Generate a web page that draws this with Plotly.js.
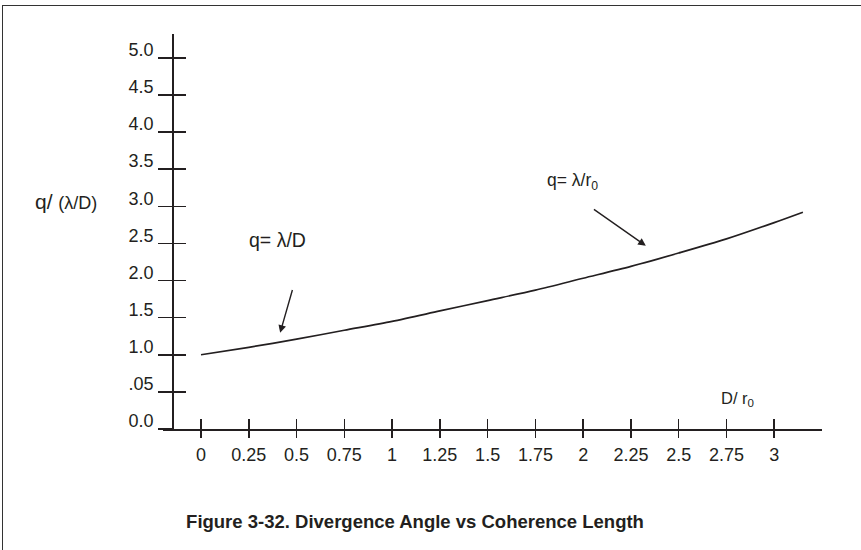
<!DOCTYPE html>
<html>
<head>
<meta charset="utf-8">
<script src="https://cdn.plot.ly/plotly-3.0.1.min.js"></script>
<style>
  html, body { margin: 0; padding: 0; background: #fff; }
  #wrap { position: relative; width: 861px; height: 550px; overflow: hidden; }
  #chart { position: absolute; left: 0; top: 0; width: 861px; height: 550px; }
  #frame { position: absolute; left: 2px; top: 4.5px; width: 870px; height: 560px;
           border-left: 1.6px solid #333; border-top: 1.6px solid #333; pointer-events: none; }
</style>
</head>
<body>
<div id="wrap">
  <div id="chart"></div>
  <div id="frame"></div>
</div>
<script>
// Data
const ratioDr0 = [0, 0.25, 0.5, 0.75, 1, 1.25, 1.5, 1.75, 2, 2.25, 2.5, 2.75, 3, 3.15];
const thetaNorm = [1.00, 1.10, 1.21, 1.33, 1.45, 1.59, 1.73, 1.87, 2.03, 2.19, 2.37, 2.56, 2.78, 2.92];

const xTickVals = [0, 0.25, 0.5, 0.75, 1, 1.25, 1.5, 1.75, 2, 2.25, 2.5, 2.75, 3];
const xTickText = ['0', '0.25', '0.5', '0.75', '1', '1.25', '1.5', '1.75', '2', '2.25', '2.5', '2.75', '3'];
const yTickVals = [0, 0.5, 1, 1.5, 2, 2.5, 3, 3.5, 4, 4.5, 5];
const yTickText = ['0.0', '.05', '1.0', '1.5', '2.0', '2.5', '3.0', '3.5', '4.0', '4.5', '5.0'];

const ink = '#231f20';
const font = 'Liberation Sans, Arial, Helvetica, sans-serif';
const xRange = [-0.199, 3.25];
const yRange = [0, 5.32];
const yAxisPos = 0.0137;

const traces = [
  { x: ratioDr0, y: thetaNorm, mode: 'lines', line: { color: ink, width: 1.7, shape: 'spline', smoothing: 0.8 },
    hoverinfo: 'skip', xaxis: 'x', yaxis: 'y' },
  { x: ratioDr0, y: thetaNorm, mode: 'lines', line: { color: 'rgba(0,0,0,0)', width: 0 },
    hoverinfo: 'skip', xaxis: 'x2', yaxis: 'y2' }
];

const axCommon = { showgrid: false, zeroline: false, tickcolor: ink, tickwidth: 1.5 };

const layout = {
  width: 861, height: 550,
  margin: { l: 163, r: 39, t: 34, b: 121.3 },
  paper_bgcolor: '#fff', plot_bgcolor: '#fff',
  showlegend: false,
  font: { family: font, color: ink, size: 18 },
  xaxis: Object.assign({}, axCommon, {
    range: xRange, tickmode: 'array', tickvals: xTickVals, ticktext: xTickText,
    ticks: 'outside', ticklen: 7, showline: true, linecolor: ink, linewidth: 1.5,
    tickfont: { family: font, size: 18, color: ink }, ticklabelstandoff: 2
  }),
  yaxis: Object.assign({}, axCommon, {
    range: yRange, anchor: 'free', position: yAxisPos, tickmode: 'array',
    tickvals: yTickVals, ticktext: yTickText, ticks: 'outside', ticklen: 14,
    showline: true, linecolor: ink, linewidth: 1.5,
    tickfont: { family: font, size: 18, color: ink }, ticklabelshift: -8, ticklabelstandoff: 1
  }),
  xaxis2: Object.assign({}, axCommon, {
    range: xRange, overlaying: 'x', anchor: 'y2', tickmode: 'array', tickvals: xTickVals,
    ticks: 'inside', ticklen: 10, showticklabels: false, showline: false
  }),
  yaxis2: Object.assign({}, axCommon, {
    range: yRange, overlaying: 'y', anchor: 'free', position: yAxisPos, tickmode: 'array',
    tickvals: yTickVals, ticks: 'inside', ticklen: 13, showticklabels: false, showline: false
  }),
  title: {
    text: '<b>Figure 3-32. Divergence Angle vs Coherence Length</b>',
    xref: 'container', yref: 'container', x: 0.482, y: 0.051,
    xanchor: 'center', yanchor: 'middle',
    font: { family: font, size: 18.5, color: ink }
  },
  annotations: [
    { xref: 'paper', yref: 'paper', x: -0.197, y: 0.577, xanchor: 'left', yanchor: 'middle',
      text: 'q/ <span style="font-size:18px">(λ/D)</span>', showarrow: false,
      font: { family: font, size: 21, color: ink } },
    { xref: 'x', yref: 'y', x: 0.238, y: 2.548, xanchor: 'left', yanchor: 'middle',
      text: 'q= λ/D', showarrow: false, font: { family: font, size: 19.5, color: ink } },
    { xref: 'x', yref: 'y', x: 1.80, y: 3.33, xanchor: 'left', yanchor: 'middle',
      text: 'q= λ/r<sub>0</sub>', showarrow: false, font: { family: font, size: 17.5, color: ink } },
    { xref: 'x', yref: 'y', x: 2.713, y: 0.4, xanchor: 'left', yanchor: 'middle',
      text: 'D/ r<sub>0</sub>', showarrow: false, font: { family: font, size: 16.5, color: ink } },
    { xref: 'x', yref: 'y', x: 0.414, y: 1.295, ax: 12.7, ay: -44.4, text: '',
      showarrow: true, arrowhead: 2, arrowsize: 1.1, arrowwidth: 1.4, arrowcolor: ink, standoff: 0 },
    { xref: 'x', yref: 'y', x: 2.328, y: 2.468, ax: -53.4, ay: -37.4, text: '',
      showarrow: true, arrowhead: 2, arrowsize: 1.1, arrowwidth: 1.4, arrowcolor: ink, standoff: 0 }
  ]
};

Plotly.newPlot('chart', traces, layout, { displayModeBar: false, staticPlot: true });
</script>
</body>
</html>
